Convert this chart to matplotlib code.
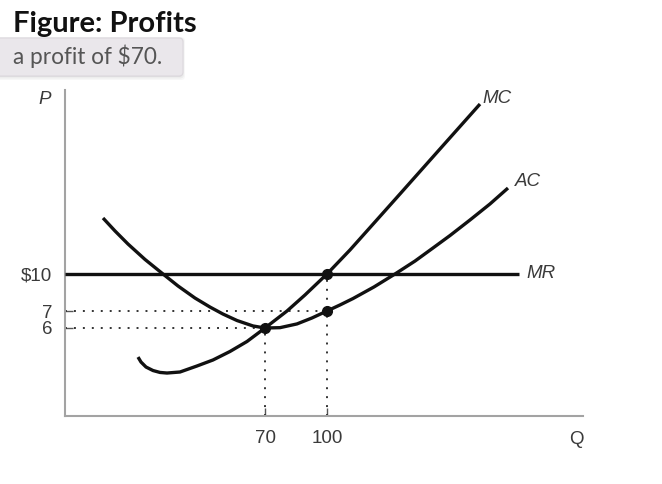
import numpy as np
import matplotlib
matplotlib.use('Agg')
import matplotlib.pyplot as plt
from matplotlib.patches import FancyBboxPatch

# ---------------- data ----------------
title = "Figure: Profits"
caption = "a profit of $70."

q_ticks = [70, 100]
q_tick_labels = ["70", "100"]
p_ticks = [10, 7, 6]
p_tick_labels = ["$10", "7", "6"]

# marginal cost curve (Q, P)
mc_q = [25.55, 26.6, 28.35, 30.8, 33.25, 35.7, 40.25, 46.2, 51.8, 57.75, 63.7, 70.0,
        80.65, 89.35, 100.0, 111.13, 123.23, 135.32, 154.68, 174.03]
mc_p = [4.02, 3.68, 3.34, 3.10, 2.97, 2.93, 3.00, 3.41, 3.82, 4.40, 5.08, 6.00,
        7.00, 8.30, 10.00, 11.95, 14.22, 16.49, 20.14, 23.78]

# average cost curve (Q, P)
ac_q = [13.3, 17.5, 22.05, 28.0, 34.3, 39.55, 45.5, 50.75, 55.3, 60.2, 65.8, 70.0, 77.26,
        85.48, 92.74, 100.0, 106.29, 112.58, 122.74, 132.90, 142.58, 151.29, 159.52,
        169.19, 178.87, 187.58]
ac_p = [14.54, 13.49, 12.43, 11.18, 10.00, 9.03, 8.05, 7.32, 6.82, 6.44, 6.12, 6.00, 6.02,
        6.24, 6.59, 7.00, 7.49, 8.01, 8.95, 10.00, 11.05, 12.11, 13.12,
        14.38, 15.68, 16.97]

# marginal revenue
mr_q = [0, 193]
mr_p = [10, 10]

# highlighted points
pts_q = [70, 100, 100]
pts_p = [6, 10, 7]

# schematic (non-linear) axes of the sketch
q_knots = [0, 70, 100, 240]
q_pos = [0, 200, 262, 262 + 140 * 62 / 30]
p_knots = [0, 6, 7, 10, 30]
p_pos = [0, 88, 105, 142, 142 + 20 * 37 / 3]

# ---------------- figure ----------------
W, H = 662, 484
fig = plt.figure(figsize=(W / 100, H / 100), dpi=100)
fig.patch.set_facecolor('white')

ax = fig.add_axes([65 / W, (H - 416) / H, 518 / W, 326 / H])
ax.set_xscale('function', functions=(lambda v: np.interp(v, q_knots, q_pos),
                                     lambda v: np.interp(v, q_pos, q_knots)))
ax.set_yscale('function', functions=(lambda v: np.interp(v, p_knots, p_pos),
                                     lambda v: np.interp(v, p_pos, p_knots)))
ax.set_xlim(0, 100 + (518 - 262) * 30 / 62)
ax.set_ylim(0, 10 + (326 - 142) * 3 / 37)

for s in ['top', 'right']:
    ax.spines[s].set_visible(False)
for s in ['left', 'bottom']:
    ax.spines[s].set_color('#a3a3a3')
    ax.spines[s].set_linewidth(1.5)

font = 'Liberation Sans'
txtc = '#3a3a3a'
ax.set_xticks(q_ticks)
ax.set_xticklabels(q_tick_labels, fontfamily=font, fontsize=13.5, color=txtc)
ax.set_yticks(p_ticks)
ax.set_yticklabels(p_tick_labels, fontfamily=font, fontsize=13.5, color=txtc)
ax.minorticks_off()
ax.tick_params(axis='x', direction='in', length=6, width=1, color='#555555', pad=10)
ax.tick_params(axis='y', direction='in', length=6, width=1, color='#555555', pad=9)

dot_style = dict(color='#333333', linewidth=1.4, linestyle=(0, (1, 3.6)), zorder=2)
# dotted guides
ax.plot([0, pts_q[2]], [pts_p[2], pts_p[2]], **dot_style)
ax.plot([0, pts_q[0]], [pts_p[0], pts_p[0]], **dot_style)
ax.plot([pts_q[0], pts_q[0]], [0, pts_p[0]], **dot_style)
ax.plot([pts_q[1], pts_q[1]], [0, pts_p[1]], **dot_style)

curve = dict(color='#111111', linewidth=2.4, solid_capstyle='butt',
             solid_joinstyle='round', zorder=3)
ax.plot(mr_q, mr_p, **curve)
ax.plot(ac_q, ac_p, **curve)
ax.plot(mc_q, mc_p, **curve)
ax.plot(pts_q, pts_p, 'o', color='#111111', markersize=7, zorder=4)

lab = dict(fontfamily=font, fontsize=13.5, color=txtc, style='italic', textcoords='offset points')
ax.annotate('MC', xy=(mc_q[-1], mc_p[-1]), xytext=(2, 0.5), ha='left', va='baseline', **lab)
ax.annotate('AC', xy=(ac_q[-1], ac_p[-1]), xytext=(5, 1.5), ha='left', va='baseline', **lab)
ax.annotate('MR', xy=(mr_q[-1], mr_p[-1]), xytext=(5, 0), ha='left', va='center', **lab)

fig.text(45 / W, 1 - 99 / H, 'P', fontfamily=font, fontsize=13.5, color=txtc,
         style='italic', ha='center', va='center')
fig.text(576 / W, 1 - 439 / H, 'Q', fontfamily=font, fontsize=13.5, color=txtc,
         ha='center', va='center')

# title and caption box
fig.text(13 / W, 1 - 32 / H, title, fontfamily='Lato', fontweight='bold', fontsize=21,
         color='#111111', ha='left', va='baseline')

for i, a in enumerate([0.05, 0.04, 0.03]):
    sh = FancyBboxPatch((-0.1 - 0.01 * i, (H - 77 - 1.5 * i) / 100), (183 + 10 + 2 * i) / 100,
                        (39 + 2 * i) / 100, boxstyle='round,pad=0,rounding_size=0.04',
                        transform=fig.dpi_scale_trans, facecolor='black', edgecolor='none',
                        alpha=a, zorder=0)
    fig.patches.append(sh)
box = FancyBboxPatch((-0.1, (H - 76) / 100), (183 + 10) / 100, 38 / 100,
                     boxstyle='round,pad=0,rounding_size=0.04',
                     transform=fig.dpi_scale_trans, facecolor='#eae7eb',
                     edgecolor='#dcd8dd', linewidth=0.8, zorder=1)
fig.patches.append(box)
fig.text(13 / W, 1 - 64 / H, caption, fontfamily='Lato', fontsize=16.3,
         color='#555555', ha='left', va='baseline', zorder=2)

fig.savefig('out.png', dpi=100)
